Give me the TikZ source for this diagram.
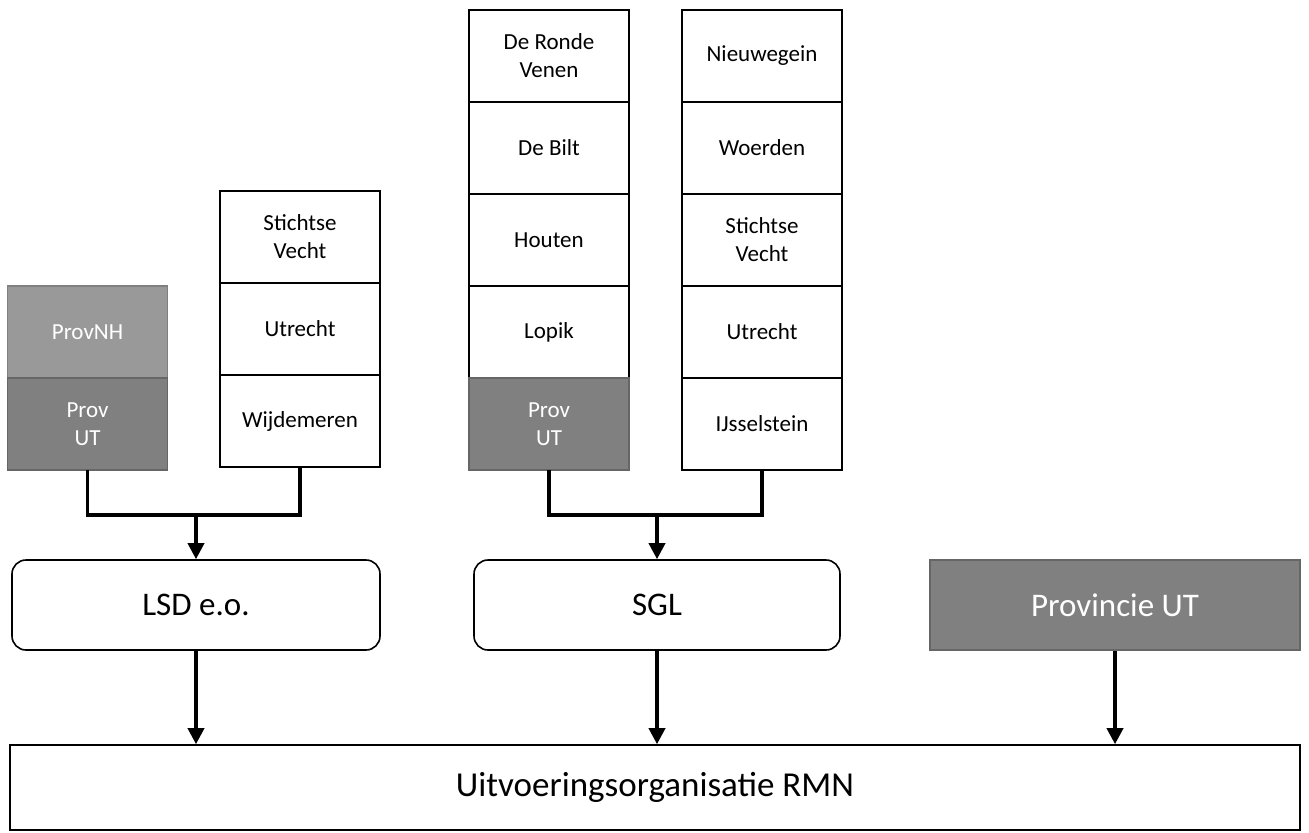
\documentclass[tikz,border=0pt]{standalone}
\usepackage{fontspec}
\setmainfont{Carlito}
\usepackage{tikz}
\usetikzlibrary{arrows.meta,positioning}

\begin{document}
\begin{tikzpicture}[
                    x=0.5pt, y=0.5pt,
                    node distance=0pt,
                    cell/.style={
                        rectangle,
                        draw=black,
                        line width=0.8pt,
                        fill=white,
                        align=center,
                        font=\fontsize{11.5}{14}\selectfont,
                        inner sep=2pt,
                        outer sep=0pt,
                        minimum width=80pt,
                        minimum height=46pt
                    },
                    nh cell/.style={cell, draw=black!50, fill=black!40, text=white},
                    ut cell/.style={cell, draw=black!60, fill=black!50, text=white},
                    unit/.style={
                        rectangle,
                        draw=black,
                        line width=0.8pt,
                        align=center,
                        font=\fontsize{16.5}{20}\selectfont,
                        minimum height=45pt
                    },
                    link/.style={draw, line width=1.8pt, black},
                    arrow/.style={link, -{Triangle[width=8pt,length=8pt]}}
                ]
                \useasboundingbox (0,0) rectangle (1309,832);
                    % LSD kolommen
                    \node[nh cell, anchor=north] (provnh) at (87.5,546) {ProvNH};
                    \node[ut cell, below=of provnh] (provutA) {Prov\\UT};
                    \node[cell, anchor=north] (svechtA) at (300,641) {Stichtse\\Vecht};
                    \node[cell, below=of svechtA] (utrechtA) {Utrecht};
                    \node[cell, below=of utrechtA] (wijd) {Wijdemeren};
                    % SGL kolommen
                    \node[cell, anchor=north] (ronde) at (549,822) {De Ronde\\Venen};
                    \node[cell, below=of ronde] (bilt) {De Bilt};
                    \node[cell, below=of bilt] (houten) {Houten};
                    \node[cell, below=of houten] (lopik) {Lopik};
                    \node[ut cell, below=of lopik] (provutC) {Prov\\UT};
                    \node[cell, anchor=north] (nieuw) at (762,822) {Nieuwegein};
                    \node[cell, below=of nieuw] (woerden) {Woerden};
                    \node[cell, below=of woerden] (svechtD) {Stichtse\\Vecht};
                    \node[cell, below=of svechtD] (utrechtD) {Utrecht};
                    \node[cell, below=of utrechtD] (ijssel) {IJsselstein};
                    % organisaties
                    \node[unit, rounded corners=7pt, minimum width=184pt] (lsd) at (196,227) {LSD e.o.};
                    \node[unit, rounded corners=7pt, minimum width=183pt] (sgl) at (657,227) {SGL};
                    \node[unit, draw=black!60, fill=black!50, text=white, minimum width=185pt] (provincie) at (1115,227) {Provincie UT};
                    \node[unit, font=\fontsize{17.5}{21}\selectfont, minimum width=645pt, minimum height=42.5pt] (rmn) at (655,44.5) {Uitvoeringsorganisatie RMN};
                    % verbindingen
                    \coordinate (jlsd) at (196,317);
                    \coordinate (jsgl) at (657,317);
                    \draw[link] (provutA.south) |- (jlsd) -| (wijd.south);
                    \draw[link] (provutC.south) |- (jsgl) -| (ijssel.south);
                    \draw[arrow] (jlsd) -- (lsd.north);
                    \draw[arrow] (jsgl) -- (sgl.north);
                    \draw[arrow] (lsd.south) -- (lsd.south |- rmn.north);
                    \draw[arrow] (sgl.south) -- (sgl.south |- rmn.north);
                    \draw[arrow] (provincie.south) -- (provincie.south |- rmn.north);
                \end{tikzpicture}
\end{document}
